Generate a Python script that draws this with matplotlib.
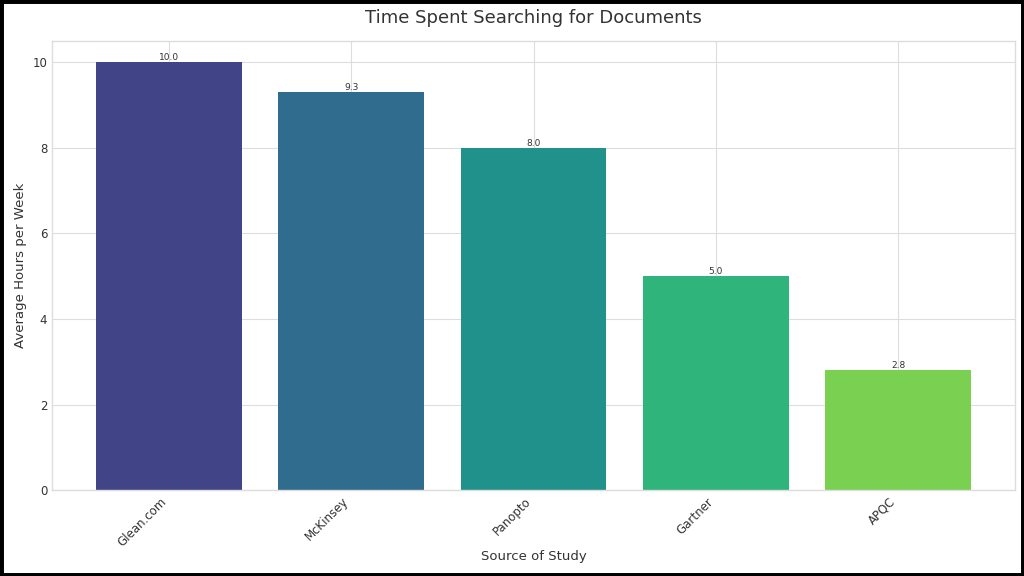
import numpy as np
import matplotlib
matplotlib.use("Agg")
import matplotlib.pyplot as plt
from matplotlib.patches import Rectangle

sources = ["Glean.com", "McKinsey", "Panopto", "Gartner", "APQC"]
hours = [10.0, 9.3, 8.0, 5.0, 2.8]

plt.style.use("seaborn-v0_8-whitegrid")
plt.rcParams["font.family"] = ["DejaVu Sans"]
fig = plt.figure(figsize=(10.24, 5.76), dpi=100)
ax = fig.add_axes([0.051, 0.149, 0.94, 0.78])

colors = plt.cm.viridis(np.linspace(0.2, 0.8, len(sources)))
bars = ax.bar(sources, hours, color=colors, width=0.8)

for b, v in zip(bars, hours):
    ax.text(b.get_x() + b.get_width() / 2, v, f"{v:.1f}", ha="center", va="bottom",
            fontsize=6.5, color="#333333")

ax.set_ylim(0, 10.5)
ax.set_title("Time Spent Searching for Documents", fontsize=13, color="#333333", pad=13)
ax.set_xlabel("Source of Study", fontsize=9.5, color="#333333", labelpad=1)
ax.set_ylabel("Average Hours per Week", fontsize=9.5, color="#333333")
plt.setp(ax.get_xticklabels(), rotation=45, ha="right", fontsize=8.5, color="#333333")
plt.setp(ax.get_yticklabels(), fontsize=8.5, color="#333333")
ax.grid(True, color="#dddddd", linewidth=0.8)
ax.set_axisbelow(True)
for s in ax.spines.values():
    s.set_visible(True)
    s.set_color("#dddddd")

fig.patches.append(Rectangle((0, 0), 1, 1, transform=fig.transFigure, fill=False,
                             edgecolor="black", linewidth=5, zorder=10))

fig.savefig("out.png", dpi=100)
